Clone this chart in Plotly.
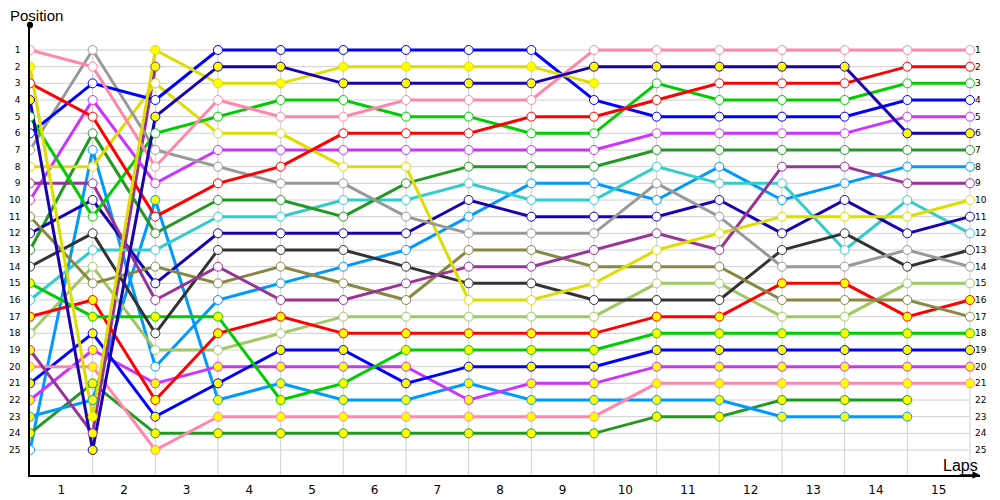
import plotly.graph_objects as go

laps = list(range(0, 16))
lap_labels = [str(i) for i in range(1, 16)]
positions_axis = list(range(1, 26))

# colours
PINK = "#FF88AA"
RED = "#FF0000"
GREEN = "#00CC00"
BLUE = "#0000FF"
DBLUE = "#1A00B0"
VIOLET = "#CC33FF"
DGREEN = "#229922"
LBLUE = "#0099FF"
CYAN = "#33CCCC"
GRAY = "#999999"
YELLOW = "#DDDD00"
PURPLE = "#993399"
DGRAY = "#333333"
OLIVE = "#888844"
LGREEN = "#A0C864"

N = None
pink_w = [1, 2, 8, 4, 5, 5, 4, 4, 4, 1, 1, 1, 1, 1, 1, 1]
red_w = [3, 5, 11, 9, 8, 6, 6, 6, 5, 5, 4, 3, 3, 3, 2, 2]
green_w = [5, 11, 6, 5, 4, 4, 5, 5, 6, 6, 3, 4, 4, 4, 3, 3]
blue_w = [6, 3, 4, 1, 1, 1, 1, 1, 1, 4, 5, 5, 5, 5, 4, 4]
dblue_y = [4, 25, 5, 2, 2, 3, 3, 3, 3, 2, 2, 2, 2, 2, 6, 6]
yellow_y = [2, 23, 1, 3, 3, 2, 2, 2, 2, 3, N, N, N, N, N, N]
gray_w = [7, 1, 7, 8, 9, 9, 11, 12, 12, 12, 9, 11, 14, 14, 13, 14]
yellow_w = [8, 8, 3, 6, 6, 8, 8, 16, 16, 15, 13, 12, 11, 11, 11, 10]
purple_w = [9, 9, 16, 14, 16, 16, 15, 14, 14, 13, 12, 13, 8, 8, 9, 9]
violet_w = [10, 4, 9, 7, 7, 7, 7, 7, 7, 7, 6, 6, 6, 6, 5, 5]
olive_w = [11, 15, 14, 15, 14, 15, 16, 13, 13, 14, 14, 14, 16, 16, 16, 17]
dblue_w = [12, 10, 15, 12, 12, 12, 12, 10, 11, 11, 11, 10, 12, 10, 12, 11]
dgreen_w = [13, 6, 12, 10, 10, 11, 9, 8, 8, 8, 7, 7, 7, 7, 7, 7]
dgray_w = [14, 12, 18, 13, 13, 13, 14, 15, 15, 16, 16, 16, 13, 12, 14, 13]
green_y = [15, 17, 17, 17, 22, 21, 19, 19, 19, 19, 18, 18, 18, 18, 18, 18]
cyan_w = [16, 13, 13, 11, 11, 10, 10, 9, 10, 10, 8, 9, 9, 13, 10, 12]
red_y = [17, 16, 22, 18, 17, 18, 18, 18, 18, 18, 17, 17, 15, 15, 17, 16]
lgreen_w = [18, 14, 19, 19, 18, 17, 17, 17, 17, 17, 15, 15, 17, 17, 15, 15]
purple_y = [19, 24, 2, N, N, N, N, N, N, N, N, N, N, N, N, N]
pink_y = [20, 20, 25, 23, 23, 23, 23, 23, 23, 23, 21, 21, 21, 21, 21, 21]
blue_y = [21, 18, 23, 21, 19, 19, 21, 20, 20, 20, 19, 19, 19, 19, 19, 19]
violet_y = [22, 19, 21, 20, 20, 20, 20, 22, 21, 21, 20, 20, 20, 20, 20, 20]
lblue_y = [23, 22, 10, 22, 21, 22, 22, 21, 22, 22, 22, 22, 23, 23, 23, N]
dgreen_y = [24, 21, 24, 24, 24, 24, 24, 24, 24, 24, 23, 23, 22, 22, 22, N]
lblue_w = [25, 7, 20, 16, 15, 14, 13, 11, 9, 9, 10, 8, 10, 9, 8, 8]

WHITE = "#FFFFFF"
YFILL = "#FFFF00"

series = [
    (lblue_w, LBLUE, WHITE), (dgreen_y, DGREEN, YFILL), (lblue_y, LBLUE, YFILL),
    (violet_y, VIOLET, YFILL), (blue_y, BLUE, YFILL), (pink_y, PINK, YFILL),
    (purple_y, PURPLE, YFILL), (lgreen_w, LGREEN, WHITE), (red_y, RED, YFILL),
    (cyan_w, CYAN, WHITE), (green_y, GREEN, YFILL), (dgray_w, DGRAY, WHITE),
    (dgreen_w, DGREEN, WHITE), (dblue_w, DBLUE, WHITE), (olive_w, OLIVE, WHITE),
    (violet_w, VIOLET, WHITE), (purple_w, PURPLE, WHITE), (yellow_w, YELLOW, WHITE),
    (gray_w, GRAY, WHITE), (blue_w, BLUE, WHITE), (green_w, GREEN, WHITE),
    (red_w, RED, WHITE), (pink_w, PINK, WHITE), (yellow_y, YELLOW, YFILL),
    (dblue_y, DBLUE, YFILL),
]

fig = go.Figure()

# lines first
for vals, col, fill in series:
    fig.add_trace(go.Scatter(x=laps, y=vals, mode="lines",
                             line=dict(color=col, width=3),
                             hoverinfo="skip", showlegend=False))
# markers on top
for vals, col, fill in series:
    fig.add_trace(go.Scatter(x=laps, y=vals, mode="markers",
                             marker=dict(size=9, color=fill,
                                         line=dict(color=col, width=1)),
                             hoverinfo="skip", showlegend=False))

# invisible trace for right axis
fig.add_trace(go.Scatter(x=[laps[-1]], y=[positions_axis[0]], yaxis="y2",
                         mode="markers", marker=dict(opacity=0),
                         hoverinfo="skip", showlegend=False))

shapes = []
for p in positions_axis:
    shapes.append(dict(type="line", xref="x", yref="y", x0=laps[0], x1=laps[-1],
                       y0=p, y1=p, line=dict(color="#D0D0D0", width=1), layer="below"))
for l in laps[1:]:
    shapes.append(dict(type="line", xref="x", yref="y", x0=l, x1=l,
                       y0=0.7, y1=26.5, line=dict(color="#D0D0D0", width=1), layer="below"))
# dot at the top of y axis
shapes.append(dict(type="circle", xref="paper", yref="paper",
                   x0=-0.0032, x1=0.0032, y0=0.993, y1=1.007,
                   fillcolor="black", line=dict(color="black", width=0)))

XR = [0, 15.16]
fig.update_layout(
    template="none",
    width=992, height=492,
    margin=dict(l=22, r=20, t=17, b=25, autoexpand=False),
    paper_bgcolor="white", plot_bgcolor="white",
    shapes=shapes,
    font=dict(family="DejaVu Sans", color="black"),
    xaxis=dict(range=XR, showgrid=False, zeroline=False, automargin=False,
               tickvals=[l + 0.5 for l in laps[:-1]], ticktext=lap_labels,
               ticks="", showline=True, linecolor="black", linewidth=1.5,
               tickfont=dict(size=12, family="DejaVu Sans"), ticklabelstandoff=3),
    yaxis=dict(range=[26.5, -0.5], showgrid=False, zeroline=False, automargin=False,
               tickvals=positions_axis, ticktext=[str(p) for p in positions_axis],
               ticks="", showline=True, linecolor="black", linewidth=1.5,
               tickfont=dict(size=9, family="DejaVu Sans"), ticklabelstandoff=6),
    yaxis2=dict(range=[26.5, -0.5], overlaying="y", side="right", anchor="free",
                automargin=False,
                position=(15 - XR[0]) / (XR[1] - XR[0]), showgrid=False, zeroline=False,
                tickvals=positions_axis, ticktext=[str(p) for p in positions_axis],
                ticks="", showline=False,
                tickfont=dict(size=9, family="DejaVu Sans"), ticklabelstandoff=4),
    annotations=[
        dict(text="Position", xref="paper", yref="paper", x=-0.0232, y=(475 - 15) / 450,
             xanchor="left", yanchor="middle", showarrow=False,
             font=dict(size=15, family="Liberation Sans")),
        dict(text="Laps", xref="paper", yref="paper", x=1.0, y=(475 - 465) / 450,
             xanchor="right", yanchor="middle", showarrow=False,
             font=dict(size=16, family="Liberation Sans")),
        dict(x=1.0, y=0, xref="paper", yref="paper", ax=-22, ay=0,
             showarrow=True, arrowhead=2, arrowsize=1, arrowwidth=1.5,
             arrowcolor="black", text=""),
    ],
)

fig.write_html("out.html")
